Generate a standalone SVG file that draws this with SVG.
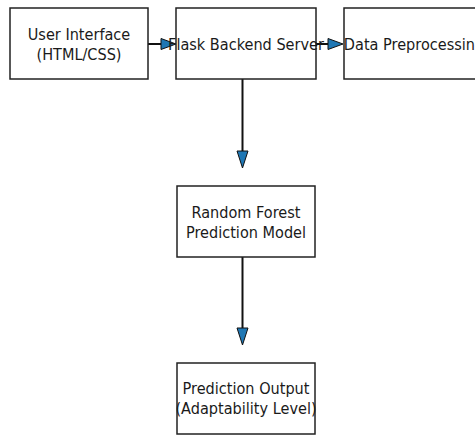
<svg xmlns="http://www.w3.org/2000/svg" width="475" height="435" viewBox="0 0 475 435">
<style>
.box{fill:#fff;stroke:#222;stroke-width:1.5}
.t{font-family:"DejaVu Sans",sans-serif;font-size:14.5px;fill:#1a1a1a;text-anchor:middle}
.ln{stroke:#111;stroke-width:2;fill:none}
.hd{fill:#1f77b4;stroke:#111;stroke-width:1}
</style>
<rect width="475" height="435" fill="#fff"/>
<g id="connectors">
<line class="ln" x1="148" y1="44" x2="161" y2="44"/>
<polygon class="hd" points="161,38.5 176,44 161,49.5"/>
<line class="ln" x1="316" y1="44" x2="328" y2="44"/>
<polygon class="hd" points="328,38.5 343,44 328,49.5"/>
<line class="ln" x1="242.5" y1="79" x2="242.5" y2="151"/>
<polygon class="hd" points="237,151 242.5,168 248,151"/>
<line class="ln" x1="242.5" y1="257" x2="242.5" y2="328"/>
<polygon class="hd" points="237,328 242.5,345 248,328"/>
</g>
<g id="ui">
<rect class="box" x="10" y="8" width="138" height="71"/>
<text class="t" transform="translate(79,40) scale(1,1.15)">User Interface</text>
<text class="t" transform="translate(79,59.5) scale(1,1.15)">(HTML/CSS)</text>
</g>
<g id="flask">
<rect class="box" x="176" y="8" width="140" height="71"/>
<text class="t" transform="translate(246,49.5) scale(1,1.15)">Flask Backend Server</text>
</g>
<g id="prep">
<rect class="box" x="344" y="8" width="140" height="71"/>
<text class="t" transform="translate(414,49.5) scale(1,1.15)">Data Preprocessing</text>
</g>
<g id="rf">
<rect class="box" x="177" y="186" width="138" height="71"/>
<text class="t" transform="translate(246,217.5) scale(1,1.15)">Random Forest</text>
<text class="t" transform="translate(246,237.5) scale(1,1.15)">Prediction Model</text>
</g>
<g id="out">
<rect class="box" x="177" y="363" width="138" height="71"/>
<text class="t" transform="translate(246,393.5) scale(1,1.15)">Prediction Output</text>
<text class="t" transform="translate(246,413.5) scale(1,1.15)">(Adaptability Level)</text>
</g>
</svg>
